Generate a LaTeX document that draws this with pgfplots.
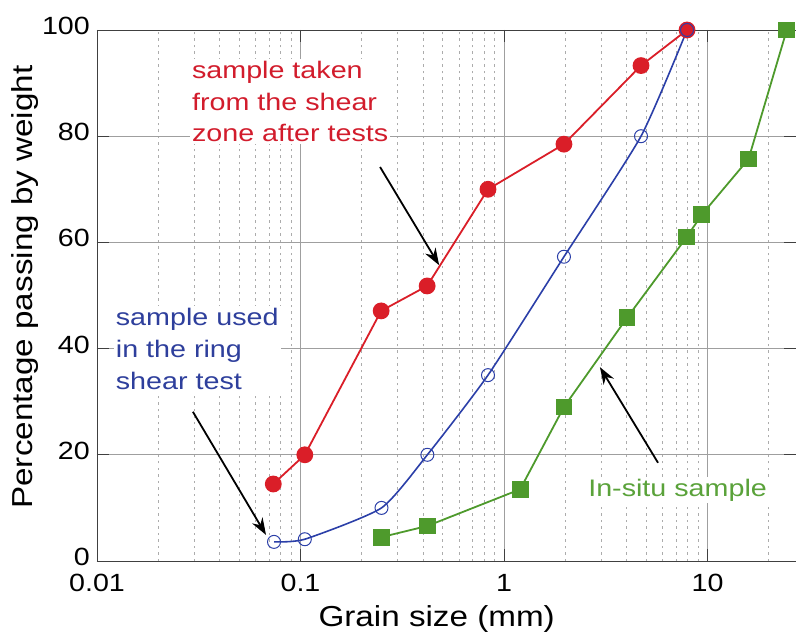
\documentclass[border=0pt]{standalone}
\usepackage{fontspec}
\setmainfont{Liberation Sans}[FakeStretch=1.15]
\newfontfamily\annfont{Liberation Sans}[FakeStretch=1.2]
\usepackage{pgfplots}
\pgfplotsset{compat=1.18}
\usetikzlibrary{arrows.meta}

\definecolor{cred}{HTML}{DA1E28}
\definecolor{cblue}{HTML}{2B3FA8}
\definecolor{cgreen}{HTML}{4E9A2C}
\definecolor{tred}{HTML}{D21C2C}
\definecolor{tblue}{HTML}{2E3F9C}
\definecolor{tgreen}{HTML}{5AA23A}

\begin{document}
\begin{tikzpicture}
\begin{axis}[
    width=699bp, height=531bp, scale only axis,
    xmode=log, xmin=0.01, xmax=27.2, ymin=0, ymax=100,
    xtick={0.01,0.1,1,10}, xticklabels={0.01,0.1,1,10},
    minor xtick={0.02,0.03,0.04,0.05,0.06,0.07,0.08,0.09,
                 0.2,0.3,0.4,0.5,0.6,0.7,0.8,0.9,
                 2,3,4,5,6,7,8,9,20},
    ytick={0,20,40,60,80,100},
    xmajorgrids, xminorgrids, ymajorgrids,
    major grid style={gray!75, line width=0.8bp},
    minor grid style={gray!65, dash pattern=on 2.5bp off 4bp, line width=0.7bp},
    axis line style={gray!50!black, line width=0.8bp},
    tick align=inside, major tick length=12bp, minor tick length=0bp,
    major tick style={gray!50!black, line width=0.8bp},
    /pgf/number format/assume math mode=true,
    ticklabel style={font=\fontsize{25}{30}\selectfont, inner sep=1bp},
    xticklabel style={yshift=-12bp},
    yticklabel style={xshift=-6bp, yshift=4bp},
    xlabel={Grain size (mm)},
    ylabel={Percentage passing by weight},
    label style={font=\fontsize{29}{34}\selectfont},
    xlabel style={at={(rel axis cs:0.486,0)}, anchor=base, yshift=-65bp},
    ylabel style={at={(rel axis cs:0,0.516)}, anchor=base, yshift=64bp},
    clip=false,
]
% annotations (white boxes hide the grid behind the text)
\node[anchor=north west, fill=white, inner sep=2bp, align=left, text=tred,
      font=\annfont\fontsize{24}{32}\selectfont]
  at (axis cs:0.0286,94.6) {sample taken\\from the shear\\zone after tests};
\node[anchor=north west, fill=white, inner sep=2bp, align=left, text=tblue,
      font=\annfont\fontsize{24}{32.5}\selectfont]
  at (axis cs:0.01208,48.1) {sample used\\in the ring\\shear test};
\node[anchor=base west, fill=white, inner sep=2bp, text=tgreen,
      font=\annfont\fontsize{24}{30}\selectfont]
  at (axis cs:2.53,12.24) {In-situ sample};

\addplot[cred, line width=1.8bp, mark=*, mark size=7.5bp,
         mark options={fill=cred, draw=cred}]
  coordinates {(0.0735,14.5) (0.105,20) (0.249,47.1) (0.419,51.8)
               (0.834,70) (1.97,78.5) (4.71,93.3) (7.93,100)};
\addplot[cblue, line width=1.6bp, smooth, tension=0.35, mark=o, mark size=6.5bp,
         mark options={draw=cblue, line width=1bp}]
  coordinates {(0.0741,3.6) (0.105,4.1) (0.25,10) (0.42,20)
               (0.834,35) (1.97,57.3) (4.71,80) (7.93,100)};
\addplot[cgreen, line width=1.8bp, mark=square*, mark size=7.5bp,
         mark options={fill=cgreen, draw=cgreen}]
  coordinates {(0.25,4.5) (0.42,6.6) (1.2,13.5) (1.97,29) (4.02,45.8)
               (7.9,61) (9.36,65.2) (15.9,75.7) (24.5,100)};

% arrows
\draw[black, line width=1.8bp, -{Stealth[length=17bp,width=12bp]}]
  (axis cs:0.246,74.2) -- (axis cs:0.48,55.7);
\draw[black, line width=1.8bp, -{Stealth[length=17bp,width=12bp]}]
  (axis cs:0.0296,28.1) -- (axis cs:0.0677,4.9);
\draw[black, line width=1.8bp, -{Stealth[length=17bp,width=12bp]}]
  (axis cs:5.71,18.5) -- (axis cs:2.96,36.5);

\coordinate (sw) at (rel axis cs:0,0);
\coordinate (ne) at (rel axis cs:1,1);
\end{axis}
\pgfresetboundingbox
\useasboundingbox ([xshift=-97bp,yshift=-78bp]sw) rectangle ([yshift=30bp]ne);
\end{tikzpicture}
\end{document}
